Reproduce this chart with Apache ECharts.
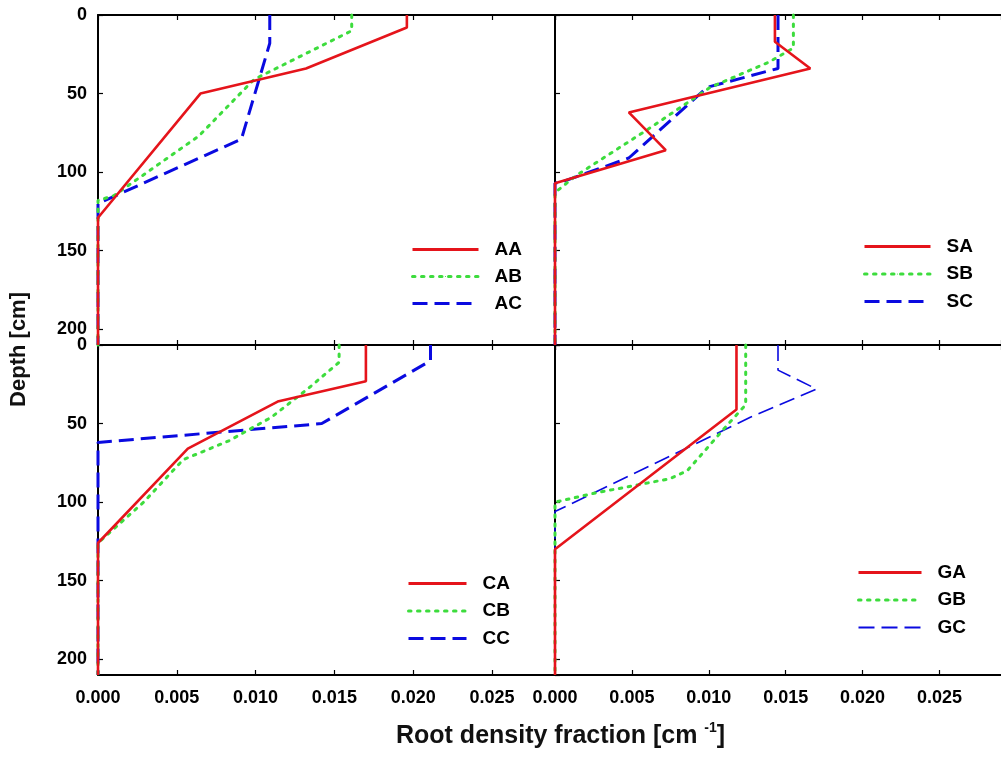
<!DOCTYPE html>
<html>
<head>
<meta charset="utf-8">
<script src="https://cdn.jsdelivr.net/npm/echarts@6/dist/echarts.min.js"></script>
<style>
html,body{margin:0;padding:0;background:#fff;}
#chart{width:1001px;height:758px;}
</style>
</head>
<body>
<div id="chart"></div>
<script>
// ---- Data (depth in cm, root density fraction in cm^-1) ----
const xTicks = [0, 0.005, 0.010, 0.015, 0.020, 0.025];
const yTicks = [0, 50, 100, 150, 200];

const depthAA = [0, 8, 34, 50, 129, 210];
const valAA   = [0.0196, 0.0196, 0.0132, 0.0065, 0, 0];
const depthAB = [0, 10, 41, 77, 115, 118, 210];
const valAB   = [0.0161, 0.0161, 0.0099, 0.0064, 0.0010, 0, 0];
const depthAC = [0, 18, 79, 120, 210];
const valAC   = [0.0109, 0.0109, 0.0091, 0, 0];

const depthSA = [0, 17, 34, 62, 86, 107, 210];
const valSA   = [0.0143, 0.0143, 0.0166, 0.0048, 0.0072, 0, 0];
const depthSB = [0, 21, 30, 46, 73, 85, 102, 113, 210];
const valSB   = [0.0155, 0.0155, 0.0139, 0.0101, 0.0060, 0.0041, 0.0014, 0, 0];
const depthSC = [0, 34, 46, 91, 106, 107, 210];
const valSC   = [0.0145, 0.0145, 0.0099, 0.0048, 0.0005, 0, 0];

const depthCA = [0, 23, 36, 66, 126, 210];
const valCA   = [0.0170, 0.0170, 0.0114, 0.0057, 0, 0];
const depthCB = [0, 11, 28, 46, 61, 73, 100, 126, 210];
const valCB   = [0.0153, 0.0153, 0.0133, 0.0110, 0.0083, 0.0054, 0.0029, 0, 0];
const depthCC = [0, 10, 50, 62, 210];
const valCC   = [0.0211, 0.0211, 0.0142, 0, 0];

const depthGA = [0, 41, 130, 210];
const valGA   = [0.0118, 0.0118, 0, 0];
const depthGB = [0, 38, 51, 80, 85, 89, 94, 100, 210];
const valGB   = [0.0124, 0.0124, 0.0112, 0.0086, 0.0075, 0.0054, 0.0027, 0, 0];
const depthGC = [0, 16, 28, 46, 106, 210];
const valGC   = [0.0145, 0.0145, 0.0170, 0.0127, 0, 0];

const panelNames = [['AA','AB','AC'], ['SA','SB','SC'], ['CA','CB','CC'], ['GA','GB','GC']];
const panelData = [
  [[valAA, depthAA], [valAB, depthAB], [valAC, depthAC]],
  [[valSA, depthSA], [valSB, depthSB], [valSC, depthSC]],
  [[valCA, depthCA], [valCB, depthCB], [valCC, depthCC]],
  [[valGA, depthGA], [valGB, depthGB], [valGC, depthGC]]
];

// ---- Styling ----
const FONT = '"Liberation Sans", Arial, sans-serif';
const RED = '#e5141b', GREEN = '#3ddc3d', BLUE = '#0a0ae0';
const lineStyles = [
  {color: RED, width: 2.6, type: 'solid'},
  {color: GREEN, width: 3, type: [2.5, 6.5], cap: 'round'},
  {color: BLUE, width: 3, type: [15, 7]}
];
const gcStyle = {color: BLUE, width: 1.6, type: [16, 7]};

const grids = [
  {left: 98, top: 15, width: 457, height: 330},
  {left: 555, top: 15, width: 457, height: 330},
  {left: 98, top: 345, width: 457, height: 330},
  {left: 555, top: 345, width: 457, height: 330}
];
const legendPos = [
  {left: 411, top: 240, itemWidth: 66, itemGap: 8},
  {left: 863, top: 237, itemWidth: 66, itemGap: 8.5},
  {left: 407, top: 574, itemWidth: 58, itemGap: 8.5},
  {left: 857, top: 563, itemWidth: 63, itemGap: 8.5}
];

const xAxes = [], yAxes = [], series = [], legends = [];
grids.forEach((g, i) => {
  const isBottom = i >= 2, isLeft = (i % 2 === 0);
  const common = {
    type: 'value', gridIndex: i, min: 0, max: 0.029, interval: 0.005,
    axisLine: {show: true, onZero: false, lineStyle: {color: '#000', width: 2}},
    axisTick: {show: true, inside: true, length: 5, lineStyle: {color: '#000', width: 1.2}},
    splitLine: {show: false}
  };
  xAxes.push(Object.assign({}, common, {
    position: 'bottom',
    axisLabel: {
      show: isBottom, margin: 14, showMaxLabel: false,
      fontFamily: FONT, fontSize: 18, fontWeight: 'bold', color: '#000',
      formatter: v => (xTicks.some(t => Math.abs(t - v) < 1e-9) ? v.toFixed(3) : '')
    }
  }));
  xAxes.push(Object.assign({}, common, {position: 'top', axisLabel: {show: false}}));
  yAxes.push({
    type: 'value', gridIndex: i, inverse: true, min: 0, max: 210, interval: 50,
    position: 'left',
    axisLine: {show: true, onZero: false, lineStyle: {color: '#000', width: 2}},
    axisTick: {show: true, inside: true, length: 5, lineStyle: {color: '#000', width: 1.2}},
    splitLine: {show: false},
    axisLabel: {
      show: isLeft, margin: 11, showMaxLabel: false,
      fontFamily: FONT, fontSize: 18, fontWeight: 'bold', color: '#000',
      formatter: v => (yTicks.indexOf(v) >= 0 ? String(v) : '')
    }
  });
  const legendData = [];
  panelNames[i].forEach((name, k) => {
    const [vals, depths] = panelData[i][k];
    const ls = (name === 'GC') ? gcStyle : lineStyles[k];
    series.push({
      type: 'line', name: name, xAxisIndex: 2 * i, yAxisIndex: i,
      data: vals.map((v, j) => [v, depths[j]]),
      symbol: 'none', smooth: false, clip: false,
      color: ls.color,
      lineStyle: ls,
      z: 3 - k
    });
    legendData.push({name: name, lineStyle: Object.assign({}, ls, {width: (name === 'GC') ? 1.8 : 3})});
  });
  legends.push({
    data: legendData, orient: 'vertical', left: legendPos[i].left, top: legendPos[i].top,
    itemWidth: legendPos[i].itemWidth, itemHeight: 1.5, itemGap: legendPos[i].itemGap, padding: 0,
    selectedMode: false,
    textStyle: {fontFamily: FONT, fontSize: 19, fontWeight: 'bold', color: '#000', padding: [0, 0, 0, 11]}
  });
});

const chart = echarts.init(document.getElementById('chart'), null, {renderer: 'canvas'});
chart.setOption({
  animation: false,
  backgroundColor: '#fff',
  grid: grids,
  xAxis: xAxes,
  yAxis: yAxes,
  legend: legends,
  series: series,
  title: {
    text: '{a|Root density fraction [cm }{s|-1}{a|]}',
    left: 396, top: 721, padding: 0,
    textStyle: {
      rich: {
        a: {fontFamily: FONT, fontSize: 25, fontWeight: 'bold', color: '#111', lineHeight: 30},
        s: {fontFamily: FONT, fontSize: 14, fontWeight: 'bold', color: '#111', lineHeight: 30, verticalAlign: 'top', padding: [0, 0, 13, 0]}
      }
    }
  },
  graphic: [{
    type: 'text', left: 8, top: 292, rotation: Math.PI / 2,
    style: {text: 'Depth [cm]', fontFamily: FONT, fontSize: 22, fontWeight: 'bold', fill: '#111'}
  }]
});
</script>
</body>
</html>
